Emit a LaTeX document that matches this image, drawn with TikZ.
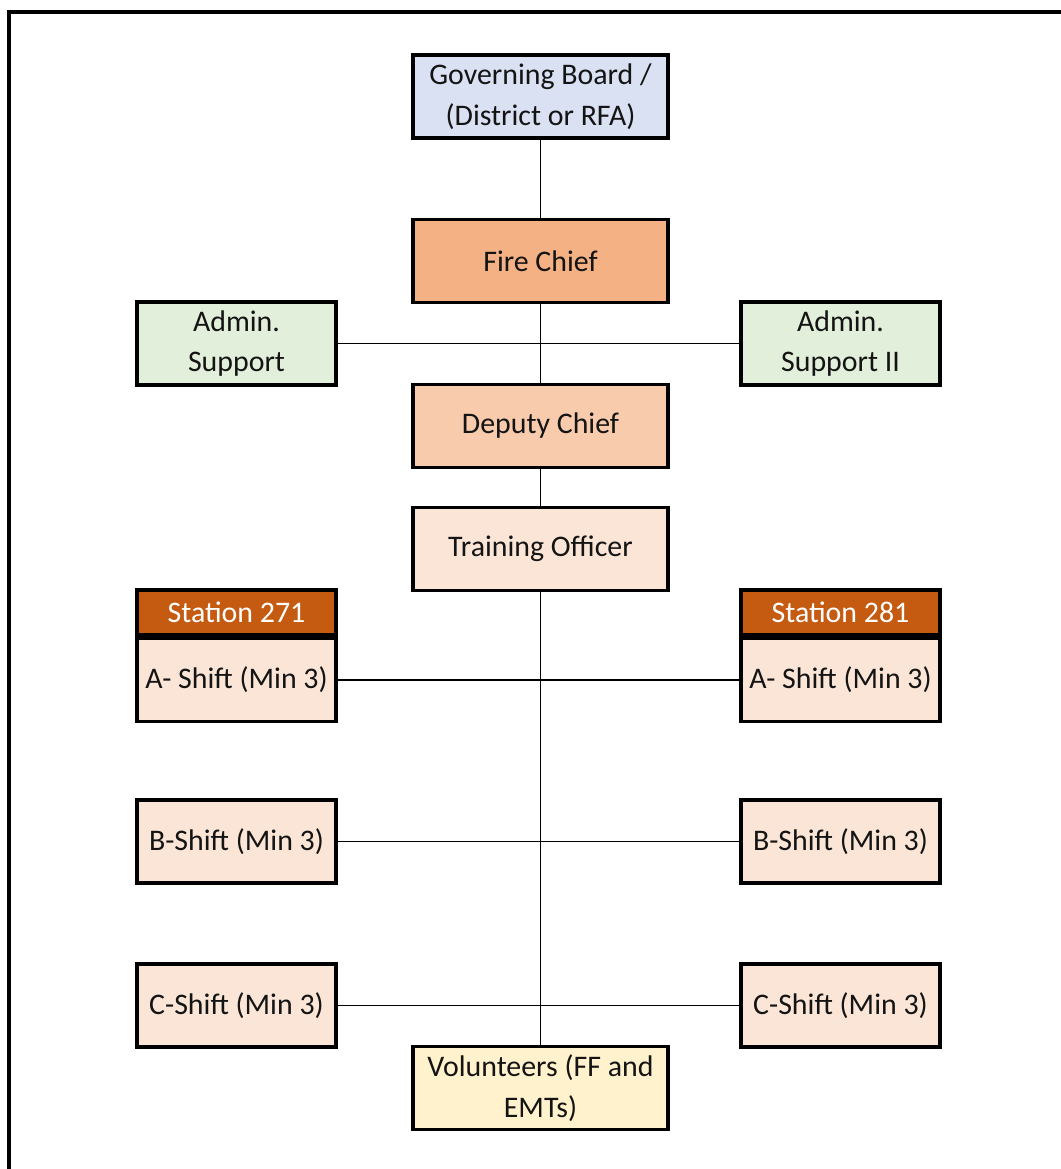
\documentclass[tikz,border=0pt]{standalone}
\usepackage{fontspec}
\setmainfont{Carlito}
\usetikzlibrary{positioning}
\definecolor{govblue}{HTML}{D9E1F2}
\definecolor{chieforange}{HTML}{F4B183}
\definecolor{deputyorange}{HTML}{F8CBAD}
\definecolor{lightpeach}{HTML}{FBE5D6}
\definecolor{admingreen}{HTML}{E2EFDA}
\definecolor{stationrust}{HTML}{C55A11}
\definecolor{volyellow}{HTML}{FFF2CC}
\definecolor{txt}{HTML}{141414}
\tikzset{
	box/.style={draw=black,line width=2pt,minimum width=5.1cm,minimum height=1.66cm,
		align=center,inner sep=2pt,text=txt,font=\fontsize{17}{23}\selectfont},
	sidebox/.style={box,minimum width=3.98cm},
	hdrbox/.style={sidebox,minimum height=0.9cm,fill=stationrust,text=white},
	link/.style={line width=0.8pt}
}
\begin{document}
\begin{tikzpicture}[line cap=rect]
		\clip (0,0) rectangle (21.22,-23.38);
		\draw[line width=2.4pt] (0.18,-0.24) rectangle (21.6,-23.8);
		% centre column
		\node[box,fill=govblue] (gov) at (10.81,-1.93) {Governing Board /\\(District or RFA)};
		\node[box,fill=chieforange] (chief) at (10.81,-5.22) {Fire Chief};
		\node[box,fill=deputyorange] (deputy) at (10.81,-8.52) {Deputy Chief};
		\node[box,fill=lightpeach] (train) at (10.81,-10.98) {Training Officer};
		\node[box,fill=volyellow] (vol) at (10.81,-21.76) {Volunteers (FF and\\EMTs)};
		% admin
		\node[sidebox,fill=admingreen] (adminL) at (4.73,-6.87) {Admin.\\Support};
		\node[sidebox,fill=admingreen] (adminR) at (16.81,-6.87) {Admin.\\Support II};
		% stations
		\node[hdrbox] (stL) at (4.73,-12.25) {Station 271};
		\node[hdrbox] (stR) at (16.81,-12.25) {Station 281};
		\node[sidebox,fill=lightpeach,below=0pt of stL] (aL) {A- Shift (Min 3)};
		\node[sidebox,fill=lightpeach,below=0pt of stR] (aR) {A- Shift (Min 3)};
		\node[sidebox,fill=lightpeach] (bL) at (4.73,-16.83) {B-Shift (Min 3)};
		\node[sidebox,fill=lightpeach] (bR) at (16.81,-16.83) {B-Shift (Min 3)};
		\node[sidebox,fill=lightpeach] (cL) at (4.73,-20.11) {C-Shift (Min 3)};
		\node[sidebox,fill=lightpeach] (cR) at (16.81,-20.11) {C-Shift (Min 3)};
		% lines
		\draw[link] (gov.south) -- (chief.north);
		\draw[link] (chief.south) -- (deputy.north);
		\draw[link] (deputy.south) -- (train.north);
		\draw[link] (train.south) -- (vol.north);
		\draw[link] (adminL.east) -- (adminR.west);
		\draw[link] (aL.east) -- (aR.west);
		\draw[link] (bL.east) -- (bR.west);
		\draw[link] (cL.east) -- (cR.west);
	\end{tikzpicture}
\end{document}
